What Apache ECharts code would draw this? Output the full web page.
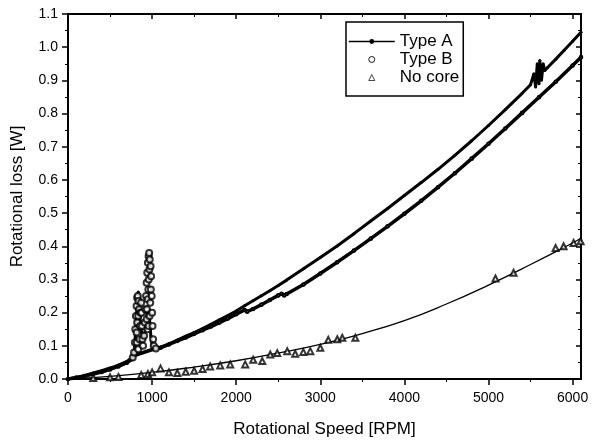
<!DOCTYPE html>
<html>
<head>
<meta charset="utf-8">
<script src="https://cdn.jsdelivr.net/npm/echarts@6/dist/echarts.min.js"></script>
<style>
html,body{margin:0;padding:0;background:#fff;}
#c{width:593px;height:443px;}
</style>
</head>
<body>
<div id="c"></div>
<script>
// ---- data (RPM, W) ----
var xTicks = [0, 1000, 2000, 3000, 4000, 5000, 6000];

var typeA = [
  [0,0],[100,0.005],[200,0.011],[300,0.018],[400,0.025],[500,0.033],[600,0.042],[700,0.053],[760,0.064],
  [790,0.09],[810,0.17],[825,0.24],[835,0.262],[845,0.23],[860,0.17],[880,0.13],[900,0.12],[920,0.15],
  [940,0.2],[955,0.21],[970,0.18],[985,0.13],[1000,0.1],[1030,0.09],[1100,0.096],[1200,0.106],[1300,0.117],
  [1400,0.129],[1500,0.14],[1600,0.152],[1700,0.165],[1800,0.178],[1900,0.191],[2000,0.205],[2100,0.221],
  [2200,0.236],[2300,0.251],[2400,0.266],[2500,0.282],[2600,0.298],[2800,0.332],[3000,0.366],[3200,0.401],
  [3400,0.438],[3600,0.476],[3800,0.514],[4000,0.553],[4200,0.592],[4400,0.632],[4600,0.674],[4800,0.718],
  [5000,0.764],[5200,0.812],[5400,0.861],[5500,0.887],[5540,0.92],[5560,0.88],[5580,0.95],[5600,0.89],
  [5610,0.96],[5630,0.9],[5650,0.95],[5670,0.93],[5700,0.938],[5800,0.964],[5900,0.991],[6000,1.018],[6100,1.045]
];

var typeB = [
  [0,0],[100,0.004],[200,0.009],[300,0.015],[400,0.021],[500,0.029],[600,0.038],[700,0.049],[760,0.06],
  [780,0.07],[1040,0.092],[1100,0.094],[1200,0.104],[1300,0.115],[1400,0.125],[1500,0.136],[1600,0.147],
  [1700,0.158],[1800,0.17],[1900,0.182],[2000,0.195],[2100,0.208],[2130,0.203],[2200,0.211],[2300,0.224],
  [2400,0.238],[2500,0.252],[2540,0.257],[2570,0.252],[2600,0.256],[2800,0.285],[3000,0.318],[3200,0.352],
  [3400,0.387],[3600,0.423],[3800,0.46],[4000,0.498],[4200,0.537],[4400,0.578],[4600,0.62],[4800,0.664],
  [5000,0.709],[5200,0.755],[5400,0.802],[5600,0.849],[5800,0.896],[6000,0.945],[6100,0.97]
];

var typeBResonance = [
  [770,0.065],[785,0.08],[795,0.11],[800,0.15],[808,0.19],[815,0.22],[822,0.245],[830,0.25],[838,0.235],
  [845,0.21],[835,0.19],[822,0.17],[815,0.14],[820,0.11],[835,0.09],[850,0.12],[858,0.16],[862,0.2],
  [870,0.23],[875,0.2],[880,0.16],[885,0.12],[892,0.1],[905,0.13],[912,0.17],[920,0.21],[928,0.25],
  [935,0.29],[942,0.32],[950,0.35],[958,0.37],[965,0.38],[972,0.36],[968,0.33],[960,0.3],[955,0.27],
  [948,0.24],[940,0.21],[935,0.18],[945,0.15],[958,0.16],[970,0.19],[978,0.23],[985,0.27],[988,0.31],
  [982,0.34],[995,0.25],[1000,0.2],[1005,0.16],[1012,0.12],[1020,0.1],[1045,0.092]
];

var noCore = [
  [300,0.003],[500,0.005],[600,0.006],[870,0.012],[950,0.015],[1000,0.02],[1100,0.032],[1200,0.02],
  [1300,0.018],[1400,0.022],[1500,0.025],[1600,0.03],[1690,0.038],[1810,0.041],[1929,0.044],[2107,0.044],
  [2202,0.058],[2310,0.054],[2405,0.074],[2488,0.078],[2607,0.084],[2702,0.076],[2798,0.081],[2881,0.084],
  [3000,0.094],[3095,0.118],[3202,0.12],[3262,0.124],[3417,0.124],[5083,0.303],[5298,0.32],[5798,0.395],
  [5893,0.4],[6012,0.41],[6095,0.415]
];

var noCoreFit = [
  [0,0],[500,0.008],[1000,0.02],[1500,0.036],[2000,0.055],[2500,0.078],[3000,0.104],[3500,0.137],
  [4000,0.176],[4500,0.226],[5000,0.283],[5500,0.345],[6000,0.41],[6100,0.424]
];

var FONT = '"Liberation Sans", Arial, sans-serif';

var chart = echarts.init(document.getElementById('c'), null, {renderer: 'canvas'});

var axisLineStyle = {color: '#000', width: 2};

// legend icons sized for a 46x7 icon box, shape centred
var triIcon = 'path://M0,0M46,7M19.5,7L23,0L26.5,7Z';
var circIcon = 'path://M0,0M46,6M20,3A3,3,0,1,1,26,3A3,3,0,1,1,20,3Z';

chart.setOption({
  backgroundColor: '#fff',
  animation: false,
  grid: {left: 68, right: 12, top: 14, bottom: 61, containLabel: false},
  legend: {
    orient: 'vertical',
    left: 346, top: 22,
    padding: [11, 4, 10, 2],
    itemWidth: 46, itemHeight: 6, itemGap: 1,
    borderColor: '#000', borderWidth: 1.5,
    backgroundColor: '#fff',
    textStyle: {fontFamily: FONT, fontSize: 17, color: '#000', lineHeight: 17},
    data: [
      {name: 'Type A', lineStyle: {width: 1.5, color: '#000'}, itemStyle: {color: '#000'}},
      {name: 'Type B', icon: circIcon, itemStyle: {color: '#fff', borderColor: '#000', borderWidth: 0.9}},
      {name: 'No core', icon: triIcon, itemStyle: {color: '#fff', borderColor: '#000', borderWidth: 0.9}}
    ]
  },
  xAxis: [{
    type: 'value', min: 0, max: 6100,
    name: 'Rotational Speed [RPM]', nameLocation: 'middle', nameGap: 42,
    nameTextStyle: {fontFamily: FONT, fontSize: 17, color: '#000'},
    axisLine: {show: true, onZero: false, lineStyle: axisLineStyle},
    axisTick: {show: true, inside: false, length: 6, lineStyle: {color: '#000', width: 1.5}, customValues: xTicks},
    minorTick: {show: true, splitNumber: 2, length: 3, lineStyle: {color: '#000', width: 1}},
    axisLabel: {fontFamily: FONT, fontSize: 14, color: '#000', margin: 12, customValues: xTicks,
      formatter: function (v) { return String(Math.round(v)); }},
    splitLine: {show: false}
  }, {
    type: 'value', min: 0, max: 6100, position: 'top',
    axisLine: {show: true, onZero: false, lineStyle: axisLineStyle},
    axisTick: {show: true, inside: true, length: 5, lineStyle: {color: '#000', width: 1.5}, customValues: xTicks},
    minorTick: {show: true, splitNumber: 2, length: 3, lineStyle: {color: '#000', width: 1}},
    axisLabel: {show: false},
    splitLine: {show: false}
  }],
  yAxis: [{
    type: 'value', min: 0, max: 1.1, interval: 0.1,
    name: 'Rotational loss [W]', nameLocation: 'middle', nameGap: 42,
    nameTextStyle: {fontFamily: FONT, fontSize: 17, color: '#000'},
    axisLine: {show: true, onZero: false, lineStyle: axisLineStyle},
    axisTick: {show: true, inside: false, length: 6, lineStyle: {color: '#000', width: 1.5}},
    minorTick: {show: true, splitNumber: 2, length: 3, lineStyle: {color: '#000', width: 1}},
    axisLabel: {fontFamily: FONT, fontSize: 14, color: '#000', margin: 10,
      formatter: function (v) { return v.toFixed(1); }},
    splitLine: {show: false}
  }, {
    type: 'value', min: 0, max: 1.1, interval: 0.1, position: 'right',
    axisLine: {show: true, onZero: false, lineStyle: axisLineStyle},
    axisTick: {show: true, inside: true, length: 5, lineStyle: {color: '#000', width: 1.5}},
    minorTick: {show: true, splitNumber: 2, length: 3, lineStyle: {color: '#000', width: 1}},
    axisLabel: {show: false},
    splitLine: {show: false}
  }],
  series: [
    {
      name: 'No core fit', type: 'line', data: noCoreFit, smooth: true,
      showSymbol: false, lineStyle: {color: '#000', width: 1.3}, itemStyle: {color: '#000'},
      silent: true, z: 1
    },
    {
      name: 'No core', type: 'scatter', data: noCore,
      symbol: 'emptyTriangle', symbolSize: 6,
      itemStyle: {color: '#000', borderWidth: 0.7}, z: 2
    },
    {
      name: 'Type B', type: 'line', data: typeB,
      symbol: 'emptyCircle', symbolSize: 2.6, showAllSymbol: true,
      lineStyle: {color: '#000', width: 3.5}, itemStyle: {color: '#000', borderWidth: 0.8}, z: 3
    },
    {
      name: 'Type A', type: 'line', data: typeA,
      symbol: 'circle', symbolSize: 3, showAllSymbol: true,
      lineStyle: {color: '#000', width: 3}, itemStyle: {color: '#000'}, z: 4
    },
    {
      name: 'Type B', type: 'scatter', data: typeBResonance,
      symbol: 'emptyCircle', symbolSize: 6,
      itemStyle: {color: '#000', borderWidth: 0.9}, z: 5
    }
  ]
});
</script>
</body>
</html>
